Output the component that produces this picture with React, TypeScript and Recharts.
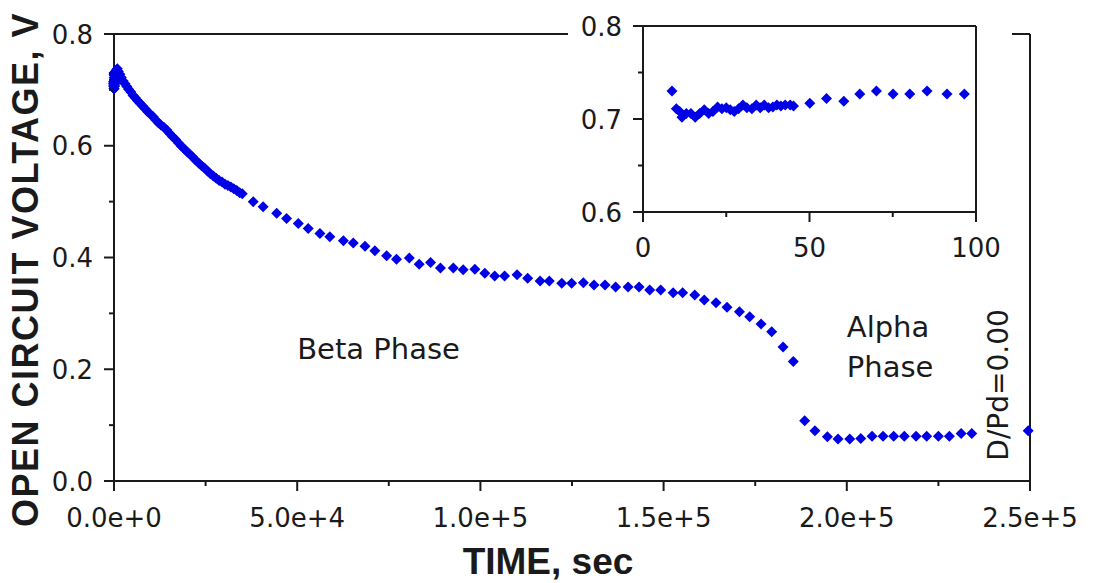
import React from 'react';
import { ScatterChart, Scatter, XAxis, YAxis, ReferenceLine, Label } from 'recharts';

const BLUE = '#0000e6';
const INK = '#1a1a1a';
const TICK_FONT = '"DejaVu Sans", sans-serif';
const TITLE_FONT = '"Liberation Sans", Arial, sans-serif';

// first 100 s (inset), time in seconds
const insetTime = [8.7, 10.0, 11.0, 11.7, 13.0, 14.4, 15.7, 17.0, 18.4, 19.7, 21.0, 22.4, 23.7, 25.0, 26.2, 27.4, 28.7, 30.0, 31.2, 32.7, 34.0, 35.2, 36.4, 37.7, 39.0, 40.2, 41.4, 42.7, 44.2, 45.2, 50.1, 55.1, 60.3, 65.1, 70.1, 75.1, 80.1, 85.3, 91.3, 96.5];
const insetVolt = [0.730, 0.711, 0.708, 0.702, 0.706, 0.706, 0.702, 0.706, 0.710, 0.706, 0.708, 0.713, 0.711, 0.712, 0.710, 0.708, 0.711, 0.715, 0.712, 0.711, 0.715, 0.712, 0.715, 0.712, 0.713, 0.715, 0.714, 0.715, 0.715, 0.714, 0.717, 0.722, 0.719, 0.727, 0.730, 0.727, 0.727, 0.730, 0.727, 0.727];

// beta phase, densely logged start
const earlyTime = [300, 600, 900, 1200, 1600, 2000, 2500, 3000, 3500, 4000, 4600, 5200, 5800, 6400, 7100, 7800, 8500, 9200, 10000, 10700, 11400, 12100, 12800, 13600, 14400, 15200, 16000, 16800, 17600, 18400, 19200, 20000, 20700, 21500, 22300, 23100, 23900, 24700, 25500, 26300, 27100, 27900, 28700, 29500, 30300, 31100, 31900, 32700, 33500, 34300, 35000];
const earlyVolt = [0.725, 0.735, 0.738, 0.733, 0.728, 0.722, 0.716, 0.711, 0.706, 0.701, 0.696, 0.690, 0.686, 0.681, 0.676, 0.671, 0.666, 0.661, 0.656, 0.652, 0.646, 0.641, 0.637, 0.633, 0.628, 0.622, 0.616, 0.611, 0.605, 0.599, 0.594, 0.589, 0.585, 0.580, 0.574, 0.569, 0.564, 0.560, 0.555, 0.550, 0.546, 0.542, 0.538, 0.535, 0.531, 0.529, 0.526, 0.523, 0.520, 0.516, 0.514];

// beta phase, sparse logging
const betaTime = [38000, 40700, 44400, 47100, 50300, 53000, 56200, 58900, 62600, 65300, 68500, 71200, 74400, 77100, 80600, 83300, 86400, 89100, 92600, 95300, 98500, 101200, 103900, 106600, 110000, 112900, 116300, 118800, 122200, 124900, 128100, 131000, 134000, 136900, 140300, 143300, 146200, 149200, 152600, 155200, 158500, 161100, 164300, 167300, 170700, 173500, 176600, 179500, 182600, 185400];
const betaVolt = [0.500, 0.491, 0.479, 0.470, 0.461, 0.452, 0.443, 0.437, 0.430, 0.426, 0.420, 0.412, 0.403, 0.397, 0.399, 0.388, 0.391, 0.381, 0.381, 0.378, 0.379, 0.372, 0.367, 0.367, 0.369, 0.363, 0.358, 0.358, 0.354, 0.354, 0.355, 0.351, 0.351, 0.347, 0.347, 0.347, 0.342, 0.342, 0.337, 0.337, 0.333, 0.324, 0.319, 0.311, 0.303, 0.294, 0.281, 0.267, 0.240, 0.214];

// alpha phase
const alphaTime = [188500, 191300, 194700, 197600, 200800, 203800, 206900, 209900, 212800, 215700, 218900, 221800, 225000, 228000, 231200, 234100, 249500];
const alphaVolt = [0.108, 0.090, 0.079, 0.075, 0.075, 0.076, 0.080, 0.080, 0.080, 0.080, 0.080, 0.080, 0.080, 0.080, 0.085, 0.085, 0.090];

const xTicks = [0, 25000, 50000, 75000, 100000, 125000, 150000, 175000, 200000, 225000, 250000];
const xTickLabels = ['0.0e+0', '', '5.0e+4', '', '1.0e+5', '', '1.5e+5', '', '2.0e+5', '', '2.5e+5'];
const yTicks = [0, 0.1, 0.2, 0.3, 0.4, 0.5, 0.6, 0.7, 0.8];
const yTickLabels = ['0.0', '', '0.2', '', '0.4', '', '0.6', '', '0.8'];
const insetXTicks = [0, 25, 50, 75, 100];
const insetXTickLabels = ['0', '', '50', '', '100'];
const insetYTicks = [0.6, 0.65, 0.7, 0.75, 0.8];
const insetYTickLabels = ['0.6', '', '0.7', '', '0.8'];

// text notes placed in data units
const notes = [
  { t: 50000, v: 0.218, text: 'Beta Phase', rotate: false },
  { t: 200000, v: 0.257, text: 'Alpha', rotate: false },
  { t: 200000, v: 0.187, text: 'Phase', rotate: false },
  { t: 244000, v: 0.172, text: 'D/Pd=0.00', rotate: true },
];

const toPoints = (ts: number[], vs: number[]) => ts.map((t, i) => ({ t, v: vs[i] }));

const mainData = [
  ...toPoints(insetTime, insetVolt),
  ...toPoints(earlyTime, earlyVolt),
  ...toPoints(betaTime, betaVolt),
  ...toPoints(alphaTime, alphaVolt),
];
const insetData = toPoints(insetTime, insetVolt);

const findLabel = (ticks: number[], labels: string[], value: number) => {
  const i = ticks.findIndex((t) => Math.abs(t - value) < 1e-9);
  return i >= 0 ? labels[i] : '';
};

function makeBottomTick(ticks: number[], labels: string[], labelDy: number) {
  return function BottomTick({ x, y, payload }: any) {
    const label = findLabel(ticks, labels, payload.value);
    const major = label !== '';
    return (
      <g>
        <line x1={x} y1={y} x2={x} y2={y + (major ? 10 : 5)} stroke={INK} strokeWidth={2} />
        {major && (
          <text x={x} y={y + labelDy} textAnchor="middle" fontFamily={TICK_FONT} fontSize={26} fill={INK}>
            {label}
          </text>
        )}
      </g>
    );
  };
}

function makeLeftTick(ticks: number[], labels: string[]) {
  return function LeftTick({ x, y, payload }: any) {
    const label = findLabel(ticks, labels, payload.value);
    const major = label !== '';
    return (
      <g>
        <line x1={x} y1={y} x2={x - (major ? 10 : 5)} y2={y} stroke={INK} strokeWidth={2} />
        {major && (
          <text x={x - 21} y={y + 9.5} textAnchor="end" fontFamily={TICK_FONT} fontSize={26} fill={INK}>
            {label}
          </text>
        )}
      </g>
    );
  };
}

const MainXTick = makeBottomTick(xTicks, xTickLabels, 45.5);
const MainYTick = makeLeftTick(yTicks, yTickLabels);
const InsetXTick = makeBottomTick(insetXTicks, insetXTickLabels, 45);
const InsetYTick = makeLeftTick(insetYTicks, insetYTickLabels);

function Diamond({ cx, cy }: any) {
  if (cx == null || cy == null) return null;
  const r = 5.5;
  return <polygon points={`${cx},${cy - r} ${cx + r},${cy} ${cx},${cy + r} ${cx - r},${cy}`} fill={BLUE} />;
}

function NoteText({ cx, cy, payload }: any) {
  if (cx == null || cy == null) return null;
  if (payload.rotate) {
    return (
      <text x={cx} y={cy} transform={`rotate(-90 ${cx} ${cy})`} textAnchor="middle" fontFamily={TICK_FONT} fontSize={28} fill={INK}>
        {payload.text}
      </text>
    );
  }
  return (
    <text x={cx} y={cy} textAnchor="start" fontFamily={TICK_FONT} fontSize={29} fill={INK}>
      {payload.text}
    </text>
  );
}

function XTitle({ viewBox }: any) {
  const { x, y, width } = viewBox;
  return (
    <text x={x + width / 2 - 24} y={y + 93} textAnchor="middle" fontFamily={TITLE_FONT} fontWeight="bold" fontSize={37} fill={INK}>
      TIME, sec
    </text>
  );
}

function YTitle({ viewBox }: any) {
  const { x, y, height } = viewBox;
  const cx = x + 38;
  const cy = y + height / 2 + 12;
  return (
    <text
      x={cx}
      y={cy}
      transform={`rotate(-90 ${cx} ${cy})`}
      textAnchor="middle"
      fontFamily={TITLE_FONT}
      fontWeight="bold"
      fontSize={36}
      letterSpacing={1.5}
      fill={INK}
    >
      OPEN CIRCUIT VOLTAGE, V
    </text>
  );
}

export default function App() {
  return (
    <div style={{ position: 'absolute', left: 0, top: 0, width: 1094, height: 583, background: '#fff' }}>
      <ScatterChart width={1094} height={583} margin={{ top: 34, right: 64, bottom: 0, left: 0 }}>
        <XAxis
          type="number"
          dataKey="t"
          domain={[0, 250000]}
          ticks={xTicks}
          interval={0}
          height={102}
          tickSize={0}
          tickMargin={0}
          tickLine={false}
          axisLine={{ stroke: INK, strokeWidth: 2 }}
          tick={<MainXTick />}
        >
          <Label content={(p: any) => <XTitle {...p} />} />
        </XAxis>
        <YAxis
          type="number"
          dataKey="v"
          domain={[0, 0.8]}
          ticks={yTicks}
          interval={0}
          width={114}
          tickSize={0}
          tickMargin={0}
          tickLine={false}
          axisLine={{ stroke: INK, strokeWidth: 2 }}
          tick={<MainYTick />}
        >
          <Label content={(p: any) => <YTitle {...p} />} />
        </YAxis>
        <ReferenceLine y={0.8} stroke={INK} strokeWidth={2} />
        <ReferenceLine x={250000} stroke={INK} strokeWidth={2} />
        <Scatter data={mainData} shape={<Diamond />} isAnimationActive={false} />
        <Scatter data={notes} dataKey="v" shape={<NoteText />} isAnimationActive={false} />
      </ScatterChart>

      <div style={{ position: 'absolute', left: 568, top: 0, width: 444, height: 270, background: '#fff' }}>
        <ScatterChart width={444} height={270} margin={{ top: 26, right: 36, bottom: 0, left: 0 }}>
          <XAxis
            type="number"
            dataKey="t"
            domain={[0, 100]}
            ticks={insetXTicks}
            interval={0}
            height={58}
            tickSize={0}
            tickMargin={0}
            tickLine={false}
            axisLine={{ stroke: INK, strokeWidth: 2 }}
            tick={<InsetXTick />}
          />
          <YAxis
            type="number"
            dataKey="v"
            domain={[0.6, 0.8]}
            ticks={insetYTicks}
            interval={0}
            width={75}
            tickSize={0}
            tickMargin={0}
            tickLine={false}
            axisLine={{ stroke: INK, strokeWidth: 2 }}
            tick={<InsetYTick />}
          />
          <ReferenceLine y={0.8} stroke={INK} strokeWidth={2} />
          <ReferenceLine x={100} stroke={INK} strokeWidth={2} />
          <Scatter data={insetData} shape={<Diamond />} isAnimationActive={false} />
        </ScatterChart>
      </div>
    </div>
  );
}
